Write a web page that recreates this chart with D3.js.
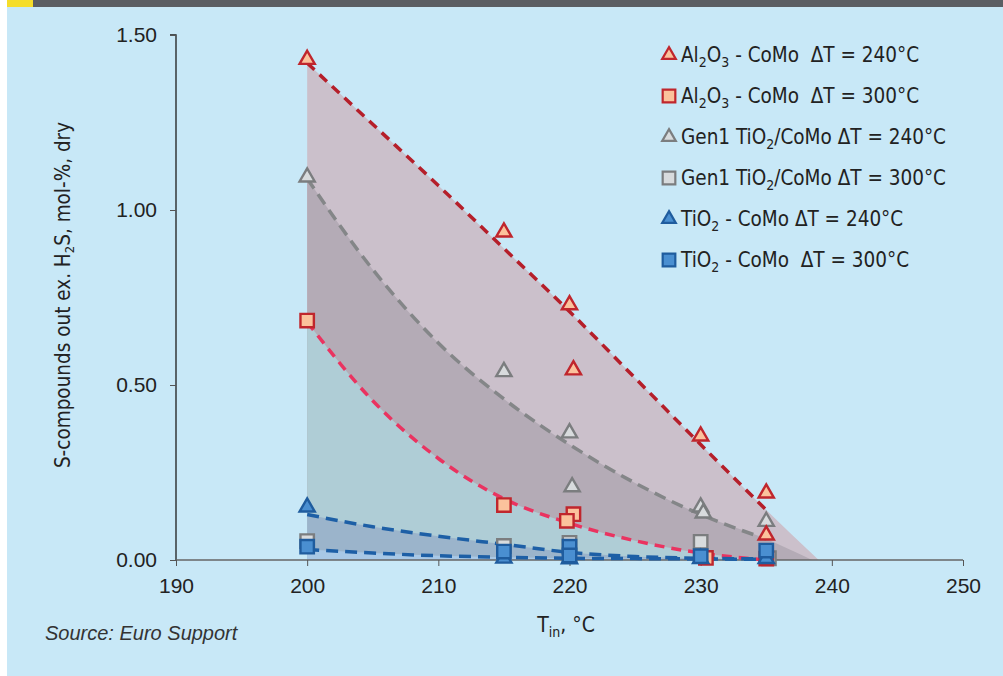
<!DOCTYPE html>
<html>
<head>
<meta charset="utf-8">
<script src="https://cdn.jsdelivr.net/npm/d3@7"></script>
<style>
  html, body { margin: 0; padding: 0; background: #ffffff; }
  svg { display: block; }
</style>
</head>
<body>
<svg id="chart" width="1003" height="676"></svg>
<script>
// ---- measured points: inlet temperature (°C) and S-compounds (mol-%) ----
const al240X = [200, 215, 220, 220.3, 230, 235, 235];
const al240Y = [1.43, 0.937, 0.729, 0.543, 0.354, 0.191, 0.071];
const al300X = [200, 215, 220.3, 219.8, 230.4, 235];
const al300Y = [0.684, 0.157, 0.131, 0.112, 0.006, 0.004];
const gen240X = [200, 215, 220, 220.2, 230, 230.2, 235];
const gen240Y = [1.094, 0.538, 0.363, 0.209, 0.151, 0.134, 0.11];
const gen300X = [200, 215, 220, 230, 235.2];
const gen300Y = [0.054, 0.04, 0.049, 0.052, 0.005];
const ti240X = [200, 215, 220, 230, 235];
const ti240Y = [0.151, 0.005, 0.003, 0.004, 0.004];
const ti300X = [200, 215, 220, 220, 230, 235];
const ti300Y = [0.038, 0.024, 0.038, 0.013, 0.011, 0.027];

// ---- trend curves (sampled every 5 °C) ----
const trendX = [200, 205, 210, 215, 220, 225, 230, 235];
const trendAl240 = [1.42, 1.245, 1.07, 0.89, 0.71, 0.52, 0.33, 0.143];
const trendGen240 = [1.09, 0.83, 0.62, 0.46, 0.33, 0.22, 0.13, 0.06];
const trendAl300 = [0.68, 0.455, 0.29, 0.175, 0.105, 0.055, 0.02, 0.0];
const trendTi240 = [0.13, 0.095, 0.068, 0.045, 0.022, 0.01, 0.005, 0.003];
const trendTi300 = [0.03, 0.02, 0.012, 0.008, 0.005, 0.004, 0.003, 0.002];
// where the shaded bands run out to zero beyond the last sample
const bandEndAl240 = 239;
const bandEndGen240 = 238.5;

const xTicks = [190, 200, 210, 220, 230, 240, 250];
const yTicks = [0, 0.5, 1.0, 1.5];

const legendLabels = [
  {shape: "tri", key: "al", parts: [["Al"], ["2", "sub"], ["O"], ["3", "sub"], [" - CoMo  ΔT = 240°C"]]},
  {shape: "sq",  key: "al", parts: [["Al"], ["2", "sub"], ["O"], ["3", "sub"], [" - CoMo  ΔT = 300°C"]]},
  {shape: "tri", key: "gen", parts: [["Gen1 TiO"], ["2", "sub"], ["/CoMo ΔT = 240°C"]]},
  {shape: "sq",  key: "gen", parts: [["Gen1 TiO"], ["2", "sub"], ["/CoMo ΔT = 300°C"]]},
  {shape: "tri", key: "ti", parts: [["TiO"], ["2", "sub"], [" - CoMo ΔT = 240°C"]]},
  {shape: "sq",  key: "ti", parts: [["TiO"], ["2", "sub"], [" - CoMo  ΔT = 300°C"]]}
];

// ---- styling ----
const marker = {
  al:  {fill: "#fbc29c", stroke: "#c0262d"},
  gen: {fill: "#d8dbdd", stroke: "#7b7d7f"},
  ti:  {fill: "#4a8fd1", stroke: "#1f5c9e"}
};
const narrow = "'Liberation Sans Narrow', 'DejaVu Sans Condensed', 'Liberation Sans', sans-serif";
const regular = "'Liberation Sans', Arial, sans-serif";

const svg = d3.select("#chart");

// page background + header strip
svg.append("rect").attr("x", 7).attr("y", 0).attr("width", 996).attr("height", 676).attr("fill", "#c8e8f7");
svg.append("rect").attr("x", 7).attr("y", 0).attr("width", 996).attr("height", 7).attr("fill", "#5b5e63");
svg.append("rect").attr("x", 7).attr("y", 0).attr("width", 26).attr("height", 7).attr("fill", "#f5dd2a");

const x = d3.scaleLinear().domain([190, 250]).range([176, 963]);
const y = d3.scaleLinear().domain([0, 1.5]).range([560, 35]);

const zip = (xs, ys) => xs.map((v, i) => [v, ys[i]]);

// ---- shaded bands under each trend ----
const area = d3.area().x(d => x(d[0])).y0(y(0)).y1(d => y(d[1])).curve(d3.curveMonotoneX);
const bands = [
  {pts: zip(trendX, trendAl240).concat([[bandEndAl240, 0]]), fill: "#cbc0cb"},
  {pts: zip(trendX, trendGen240).concat([[bandEndGen240, 0]]), fill: "#b4abb6"},
  {pts: zip(trendX, trendAl300), fill: "#afcdd6"},
  {pts: zip(trendX, trendTi240), fill: "#9bb4cb"},
  {pts: zip(trendX, trendTi300), fill: "#a8c8e6"}
];
svg.append("g").selectAll("path").data(bands).join("path")
  .attr("d", d => area(d.pts)).attr("fill", d => d.fill);

// ---- axes ----
const yAxis = svg.append("g").attr("transform", `translate(${x(190)},0)`)
  .call(d3.axisLeft(y).tickValues(yTicks).tickFormat(d3.format(".2f")).tickSize(6).tickPadding(13));
yAxis.select(".domain").attr("stroke", "#1e1e1e").attr("stroke-width", 1.3).attr("d", `M-6,${y(1.5)}H0V${y(0)}`);
yAxis.selectAll(".tick line").attr("stroke", "#555");
yAxis.selectAll("text").attr("font-family", regular).attr("font-size", 21).attr("fill", "#222");

const xAxis = svg.append("g").attr("transform", `translate(0,${y(0)})`)
  .call(d3.axisBottom(x).tickValues(xTicks).tickFormat(d3.format("d")).tickSize(6).tickPadding(12));
xAxis.select(".domain").attr("stroke", "#666").attr("stroke-width", 1.3).attr("d", `M${x(190)},0H${x(250)}`);
xAxis.selectAll(".tick line").attr("stroke", "#555");
xAxis.selectAll("text").attr("font-family", regular).attr("font-size", 21).attr("fill", "#222");

// ---- dashed trend lines ----
const line = d3.line().x(d => x(d[0])).y(d => y(d[1])).curve(d3.curveMonotoneX);
const trends = [
  {ys: trendAl240, color: "#b51f2a", dash: "10,7"},
  {ys: trendGen240, color: "#848688", dash: "12,7"},
  {ys: trendAl300, color: "#ea3360", dash: "10,7"},
  {ys: trendTi240, color: "#1d5fa6", dash: "12,7"},
  {ys: trendTi300, color: "#1d5fa6", dash: "12,7"}
];
svg.append("g").selectAll("path").data(trends).join("path")
  .attr("d", d => line(zip(trendX, d.ys)))
  .attr("fill", "none").attr("stroke", d => d.color)
  .attr("stroke-width", 3.5).attr("stroke-dasharray", d => d.dash);

// ---- markers ----
const triPath = d3.symbol(d3.symbolTriangle, 100)();
const sqPath = d3.symbol(d3.symbolSquare, 180)();
const series = [
  {xs: gen240X, ys: gen240Y, shape: "tri", key: "gen"},
  {xs: gen300X, ys: gen300Y, shape: "sq", key: "gen"},
  {xs: al240X, ys: al240Y, shape: "tri", key: "al"},
  {xs: al300X, ys: al300Y, shape: "sq", key: "al"},
  {xs: ti240X, ys: ti240Y, shape: "tri", key: "ti"},
  {xs: ti300X, ys: ti300Y, shape: "sq", key: "ti"}
];
series.forEach(s => {
  svg.append("g").selectAll("path").data(zip(s.xs, s.ys)).join("path")
    .attr("transform", d => `translate(${x(d[0])},${y(d[1])})`)
    .attr("d", s.shape === "tri" ? triPath : sqPath)
    .attr("fill", marker[s.key].fill).attr("stroke", marker[s.key].stroke)
    .attr("stroke-width", 2.4).attr("stroke-linejoin", "miter");
});

// ---- legend ----
const lg = svg.append("g");
legendLabels.forEach((d, i) => {
  const cy = 55 + i * 41;
  lg.append("path").attr("transform", `translate(669,${cy})`)
    .attr("d", d.shape === "tri" ? d3.symbol(d3.symbolTriangle, 80)() : d3.symbol(d3.symbolSquare, 160)())
    .attr("fill", marker[d.key].fill).attr("stroke", marker[d.key].stroke).attr("stroke-width", 2.2);
  const t = lg.append("text").attr("x", 681).attr("y", cy + 7)
    .attr("font-family", narrow).attr("font-size", 20.5).attr("fill", "#222")
    .style("white-space", "pre");
  let down = false;
  d.parts.forEach(p => {
    const ts = t.append("tspan").text(p[0]);
    if (p[1] === "sub") {
      ts.attr("font-size", 14).attr("dy", down ? 0 : 5);
      down = true;
    } else {
      if (down) ts.attr("dy", -5);
      down = false;
    }
  });
});

// ---- axis titles and source ----
const yt = svg.append("text").attr("transform", "translate(70,295) rotate(-90)")
  .attr("text-anchor", "middle").attr("font-family", narrow).attr("font-size", 20.5).attr("fill", "#222");
yt.append("tspan").text("S-compounds out ex. H");
yt.append("tspan").text("2").attr("font-size", 13).attr("dy", 4);
yt.append("tspan").text("S, mol-%, dry").attr("dy", -4);

const xt = svg.append("text").attr("x", 566).attr("y", 632)
  .attr("text-anchor", "middle").attr("font-family", narrow).attr("font-size", 21).attr("fill", "#222");
xt.append("tspan").text("T");
xt.append("tspan").text("in").attr("font-size", 14).attr("dy", 5);
xt.append("tspan").text(", °C").attr("dy", -5);

svg.append("text").attr("x", 45).attr("y", 640)
  .attr("font-family", regular).attr("font-style", "italic").attr("font-size", 20).attr("fill", "#333")
  .text("Source: Euro Support");
</script>
</body>
</html>
